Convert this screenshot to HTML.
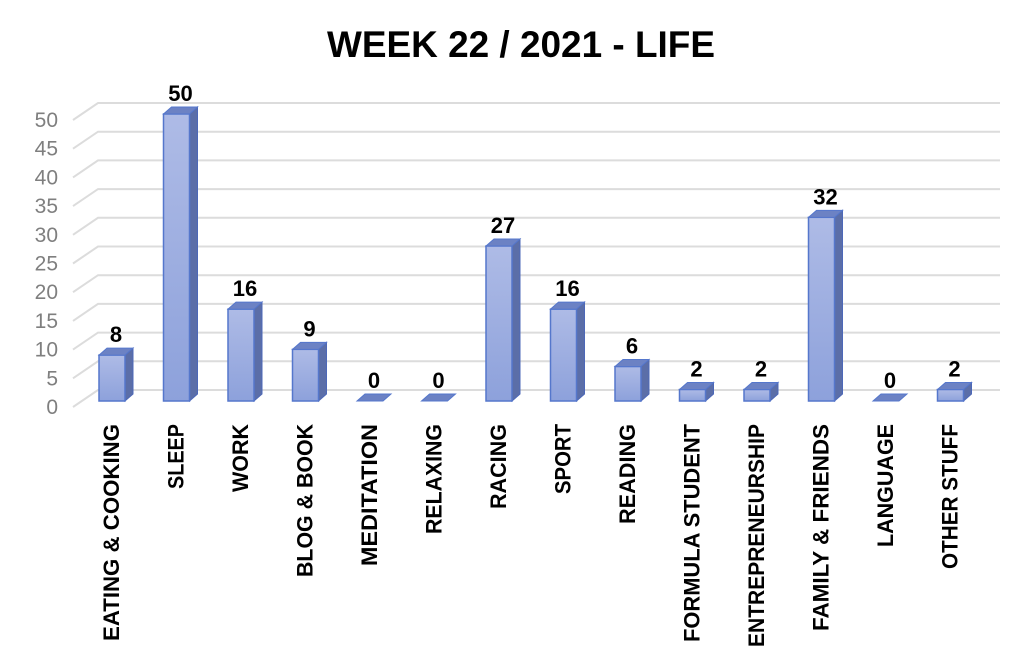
<!DOCTYPE html>
<html><head><meta charset="utf-8"><style>
html,body{margin:0;padding:0;background:#fff;}
svg{display:block;font-family:"Liberation Sans",sans-serif;}
</style></head><body>
<svg width="1023" height="665" viewBox="0 0 1023 665" xmlns="http://www.w3.org/2000/svg">
<defs>
<linearGradient id="fg" x1="0" y1="0" x2="0" y2="1"><stop offset="0" stop-color="#aebbe6"/><stop offset="1" stop-color="#8da1db"/></linearGradient>
</defs>
<text x="521" y="57" text-anchor="middle" font-size="37" font-weight="bold" fill="#000" textLength="388" lengthAdjust="spacingAndGlyphs">WEEK 22  / 2021 - LIFE</text>
<g id="grid" stroke="#dcdcdc" stroke-width="2" fill="none"></g>
<g id="ylab" font-size="21" fill="#7f7f7f" text-anchor="end"></g>
<g id="bars"></g>
<g id="vals" font-size="22" font-weight="bold" text-anchor="middle"></g>
<g id="cats" font-size="22" font-weight="bold"></g>
<script>
var ns="http://www.w3.org/2000/svg";
function el(p,t,a,txt){var e=document.createElementNS(ns,t);for(var k in a)e.setAttribute(k,a[k]);if(txt!==undefined)e.textContent=txt;document.getElementById(p).appendChild(e);return e;}
for(var i=0;i<=10;i++){var yb=390-i*28.7;var yf=yb+17;
el("grid","path",{d:"M73 "+yf+" L98 "+yb+" L1000 "+yb});
el("ylab","text",{x:58,y:yf+7},String(i*5));}
var data=[["EATING & COOKING",8,217],["SLEEP",50,65],["WORK",16,68],["BLOG & BOOK",9,153],["MEDITATION",0,142],["RELAXING",0,110],["RACING",27,85],["SPORT",16,70],["READING",6,100],["FORMULA STUDENT",2,218],["ENTREPRENEURSHIP",2,223],["FAMILY & FRIENDS",32,207],["LANGUAGE",0,123],["OTHER STUFF",2,145]];
var u=5.74,base=401,w=26,dx=8,dy=7;
data.forEach(function(d,i){var x=99+i*64.5,h=d[1]*u,t=base-h;
if(h>0){
el("bars","polygon",{points:(x+w)+","+t+" "+(x+w+dx)+","+(t-dy)+" "+(x+w+dx)+","+(base-dy)+" "+(x+w)+","+base,fill:"#5b6ea8",stroke:"#4d68b8","stroke-width":1});
el("bars","rect",{x:x,y:t,width:w,height:h,fill:"url(#fg)",stroke:"#5577cc","stroke-width":1.5});
}
el("bars","polygon",{points:x+","+t+" "+(x+dx)+","+(t-dy)+" "+(x+w+dx)+","+(t-dy)+" "+(x+w)+","+t,fill:"#6c82c4",stroke:"#5577cc","stroke-width":1});
el("vals","text",{x:x+17,y:t-13},String(d[1]));
var bx=x+20;
el("cats","text",{x:0,y:0,transform:"translate("+bx+",424) rotate(-90)","text-anchor":"end",textLength:d[2],lengthAdjust:"spacingAndGlyphs"},d[0]);
});
</script>
</svg>
</body></html>
